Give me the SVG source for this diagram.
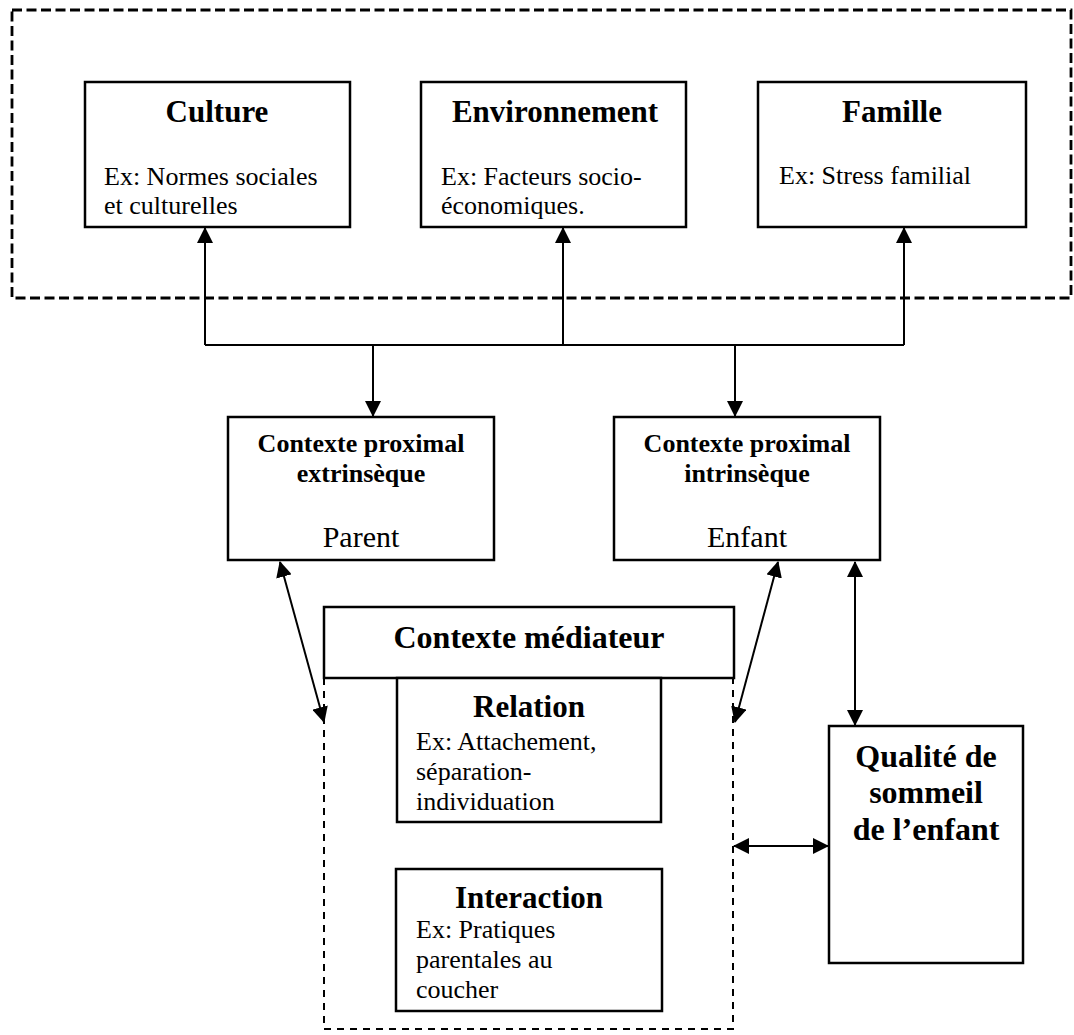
<svg xmlns="http://www.w3.org/2000/svg" width="1074" height="1035" viewBox="0 0 1074 1035">
  <defs>
    <style>
      .box { fill: #fff; stroke: #000; stroke-width: 2.5; }
      .frame { fill: none; stroke: #000; stroke-width: 2.8; stroke-dasharray: 10 4.5; }
      .mframe { fill: none; stroke: #000; stroke-width: 2; stroke-dasharray: 7 6; }
      .link { fill: none; stroke: #000; stroke-width: 2; }
      .title { font-family: "Liberation Serif", "Times New Roman", serif; font-weight: bold; font-size: 31px; text-anchor: middle; fill: #000; }
      .sub { font-family: "Liberation Serif", "Times New Roman", serif; font-weight: bold; font-size: 26px; text-anchor: middle; fill: #000; }
      .body { font-family: "Liberation Serif", "Times New Roman", serif; font-size: 26px; fill: #000; }
      .who { font-family: "Liberation Serif", "Times New Roman", serif; font-size: 30px; text-anchor: middle; fill: #000; }
    </style>
    <marker id="head" viewBox="0 0 16 16" refX="15" refY="8" markerWidth="16" markerHeight="16" markerUnits="userSpaceOnUse" orient="auto-start-reverse">
      <path d="M0,0 L16,8 L0,16 Z" fill="#000"/>
    </marker>
  </defs>

  <!-- dashed frame around the distal contexts -->
  <rect class="frame" x="12" y="10" width="1059" height="288"/>

  <g id="culture">
    <rect class="box" x="85" y="82" width="265" height="145"/>
    <text class="title" x="217" y="122">Culture</text>
    <text class="body" x="104" y="185">Ex: Normes sociales</text>
    <text class="body" x="104" y="214">et culturelles</text>
  </g>

  <g id="environnement">
    <rect class="box" x="421" y="82" width="265" height="145"/>
    <text class="title" x="555" y="122">Environnement</text>
    <text class="body" x="441" y="185">Ex: Facteurs socio-</text>
    <text class="body" x="441" y="214">économiques.</text>
  </g>

  <g id="famille">
    <rect class="box" x="758" y="82" width="268" height="145"/>
    <text class="title" x="892" y="122">Famille</text>
    <text class="body" x="779" y="184">Ex: Stress familial</text>
  </g>

  <g id="proximal-extrinseque">
    <rect class="box" x="228" y="417" width="266" height="143"/>
    <text class="sub" x="361" y="452">Contexte proximal</text>
    <text class="sub" x="361" y="482">extrinsèque</text>
    <text class="who" x="361" y="547">Parent</text>
  </g>

  <g id="proximal-intrinseque">
    <rect class="box" x="614" y="417" width="266" height="143"/>
    <text class="sub" x="747" y="452">Contexte proximal</text>
    <text class="sub" x="747" y="482">intrinsèque</text>
    <text class="who" x="747" y="547">Enfant</text>
  </g>

  <g id="mediateur">
    <path class="mframe" d="M324,678 V1029 H733 V678"/>
    <rect class="box" x="324" y="607" width="410" height="71"/>
    <text class="title" x="529" y="648" style="font-size:32px">Contexte médiateur</text>
  </g>

  <g id="relation">
    <rect class="box" x="397" y="678" width="264" height="144"/>
    <text class="title" x="529" y="717">Relation</text>
    <text class="body" x="416" y="750">Ex: Attachement,</text>
    <text class="body" x="416" y="780">séparation-</text>
    <text class="body" x="416" y="810">individuation</text>
  </g>

  <g id="interaction">
    <rect class="box" x="396" y="869" width="266" height="142"/>
    <text class="title" x="529" y="908">Interaction</text>
    <text class="body" x="416" y="938">Ex: Pratiques</text>
    <text class="body" x="416" y="968">parentales au</text>
    <text class="body" x="416" y="998">coucher</text>
  </g>

  <g id="qualite-sommeil">
    <rect class="box" x="829" y="726" width="194" height="237"/>
    <text class="title" x="926" y="767" style="font-size:32px">Qualité de</text>
    <text class="title" x="926" y="803" style="font-size:32px">sommeil</text>
    <text class="title" x="926" y="840" style="font-size:32px">de l’enfant</text>
  </g>

  <g id="connectors">
    <path class="link" d="M205,345 H904"/>
    <path class="link" d="M205,345 V228" marker-end="url(#head)"/>
    <path class="link" d="M563,345 V228" marker-end="url(#head)"/>
    <path class="link" d="M904,345 V228" marker-end="url(#head)"/>
    <path class="link" d="M373,345 V416" marker-end="url(#head)"/>
    <path class="link" d="M735,345 V416" marker-end="url(#head)"/>
    <path class="link" d="M280,562 L324,722" marker-start="url(#head)" marker-end="url(#head)"/>
    <path class="link" d="M778,562 L735,722" marker-start="url(#head)" marker-end="url(#head)"/>
    <path class="link" d="M855,562 V725" marker-start="url(#head)" marker-end="url(#head)"/>
    <path class="link" d="M734,846 H828" marker-start="url(#head)" marker-end="url(#head)"/>
  </g>
</svg>
